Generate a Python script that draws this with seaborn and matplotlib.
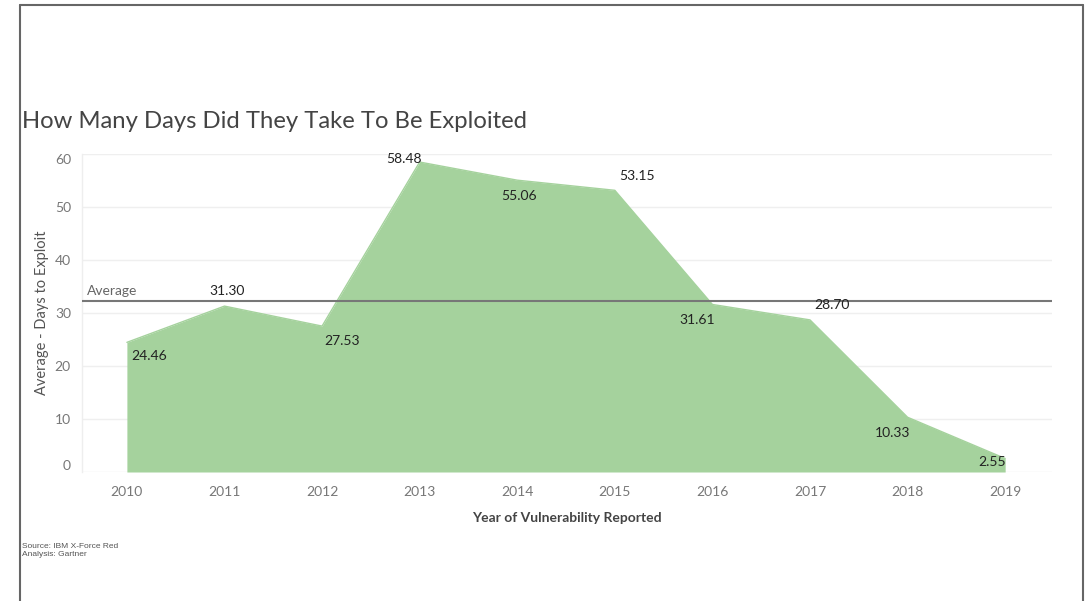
import matplotlib
matplotlib.use("Agg")
import matplotlib.pyplot as plt
from matplotlib.lines import Line2D
import seaborn as sns
import pandas as pd
import numpy as np

years = [2010, 2011, 2012, 2013, 2014, 2015, 2016, 2017, 2018, 2019]
days = [24.46, 31.30, 27.53, 58.48, 55.06, 53.15, 31.61, 28.70, 10.33, 2.55]
yticks = [0, 10, 20, 30, 40, 50, 60]
title = "How Many Days Did They Take To Be Exploited"
xlabel = "Year of Vulnerability Reported"
ylabel = "Average - Days to Exploit"
ref_label = "Average"
notes = ["Source: IBM X-Force Red", "Analysis: Gartner"]

# label offsets (pixels) relative to each point — layout only
label_dx = [22, 3, 20, -16, 2, 22, -15, 22, -15, -13]
label_dy = [-14, 15, -15, 3, -16, 14, -16, 15, -16, -4]

df = pd.DataFrame({"year": years, "days": days})
avg = float(np.mean(days))

sns.set_theme(style="white")
FONT = "Lato"
plt.rcParams["font.family"] = [FONT, "DejaVu Sans"]

W, H = 1089, 601
fig = plt.figure(figsize=(W / 100, H / 100), dpi=100)
left, right, top, bottom = 82, 1052, 154, 472
ax = fig.add_axes([left / W, 1 - bottom / H, (right - left) / W, (bottom - top) / H])

green = "#a5d29d"
ax.fill_between(df["year"], 0, df["days"], color=green, linewidth=0, zorder=2)
sns.lineplot(data=df, x="year", y="days", ax=ax, color=green, linewidth=1, zorder=2)

ax.set_xlim(2009.54, 2019.48)
ax.set_ylim(0, 60)
ax.set_yticks(yticks)
ax.set_xticks(years)
ax.set_xticklabels([str(y) for y in years])
ax.yaxis.grid(True, color="#efefef", linewidth=1)
ax.set_axisbelow(True)
for s in ["top", "right", "bottom"]:
    ax.spines[s].set_visible(False)
ax.spines["left"].set_color("#eeeeee")
ax.spines["left"].set_linewidth(1)
ax.tick_params(axis="both", length=0, labelsize=10, labelcolor="#777777")
ax.tick_params(axis="y", pad=8)
ax.tick_params(axis="x", pad=10)
ylabs = ax.get_yticklabels()
ylabs[0].set_va("bottom")
ylabs[-1].set_va("top")

ax.axhline(avg, color="#777777", linewidth=1.5, zorder=3)
ax.annotate(ref_label, xy=(0, avg), xycoords=("axes fraction", "data"),
            xytext=(5, 4), textcoords="offset pixels", ha="left", va="bottom",
            fontsize=10, color="#666666")

for x, y, dx, dy in zip(years, days, label_dx, label_dy):
    ax.annotate(f"{y:.2f}", xy=(x, y), xytext=(dx, dy), textcoords="offset pixels",
                ha="center", va="center", fontsize=10, color="#222222", zorder=4)

ax.set_xlabel(xlabel, fontsize=10, fontweight="bold", color="#444444", labelpad=10)
ax.set_ylabel(ylabel, fontsize=10.5, color="#555555")
ax.yaxis.set_label_coords((49 - left) / (right - left), 0.5)

fig.text(22 / W, 1 - 121 / H, title, fontsize=17.2, color="#444444", ha="left", va="center")
fig.text(22 / W, 1 - 546 / H, notes[0], fontsize=6, color="#555555", ha="left", va="center",
         family=["Liberation Sans", "DejaVu Sans"])
fig.text(22 / W, 1 - 555 / H, notes[1], fontsize=6, color="#555555", ha="left", va="center",
         family=["Liberation Sans", "DejaVu Sans"])

# outer frame
fx0, fx1, fy1 = 20 / W, 1083 / W, 1 - 5 / H
for xs, ys in [([fx0, fx0], [-0.1, fy1]), ([fx0, fx1], [fy1, fy1]), ([fx1, fx1], [fy1, -0.1])]:
    fig.add_artist(Line2D(xs, ys, color="#666666", linewidth=1.5, transform=fig.transFigure))

fig.savefig("out.png", dpi=100)
